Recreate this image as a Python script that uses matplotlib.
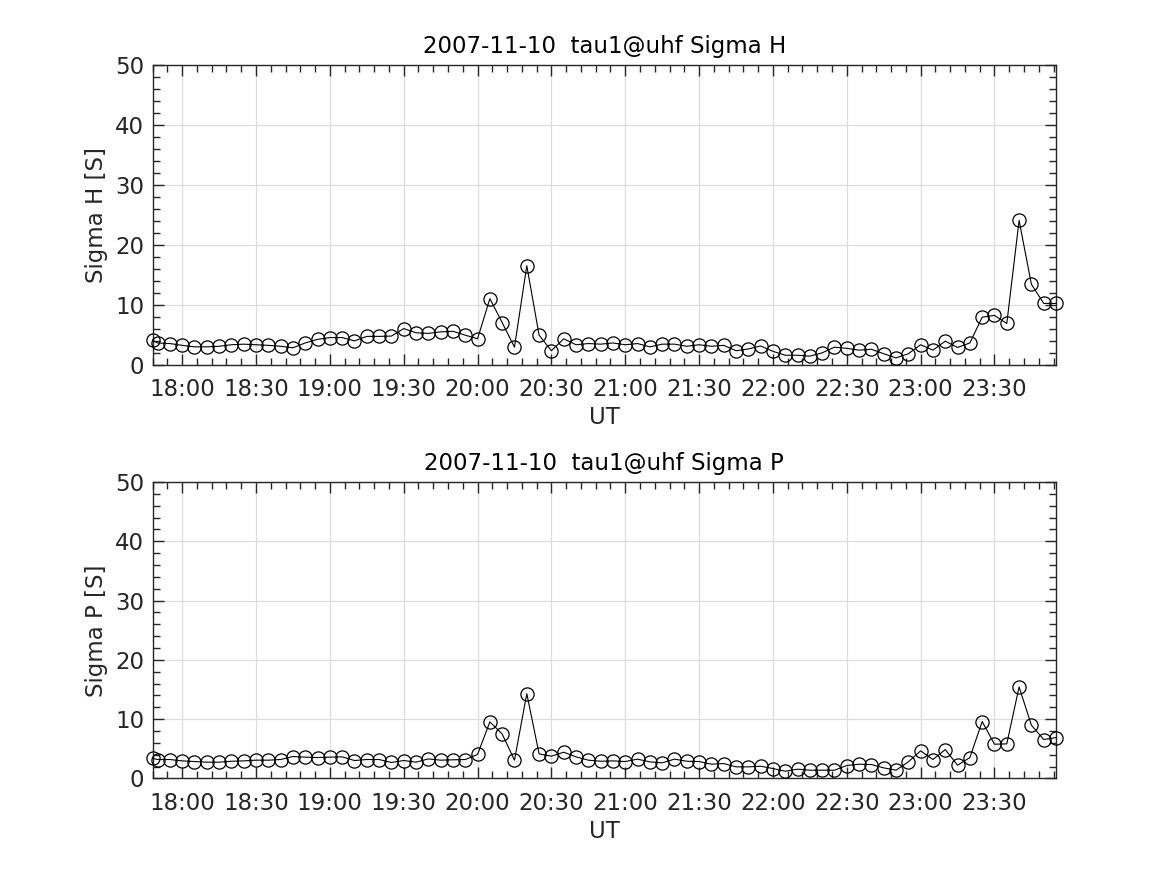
import numpy as np
import pandas as pd
import matplotlib
matplotlib.use("Agg")
import matplotlib.pyplot as plt
import matplotlib.dates as mdates
from matplotlib.ticker import MultipleLocator

plt.rcParams["font.family"] = ["DejaVu Sans"]

# 时间 (UT), 第一个点是 17:48, 后面每 5 分钟一个
times = ["17:48"] + [f"{m // 60:02d}:{m % 60:02d}" for m in range(17 * 60 + 50, 23 * 60 + 56, 5)]

sigma_h = [4.05, 3.6, 3.5, 3.2, 2.95, 2.95, 3.05, 3.3, 3.4, 3.3, 3.2, 3.05, 2.8, 3.6, 4.2,
           4.5, 4.5, 3.95, 4.7, 4.7, 4.75, 6.0, 5.3, 5.2, 5.45, 5.55, 4.9, 4.3,
           11.0, 7.0, 2.9, 16.5, 4.9, 2.3, 4.3, 3.3, 3.5, 3.4, 3.6, 3.3, 3.5, 2.95,
           3.4, 3.4, 3.05, 3.3, 3.05, 3.2, 2.3, 2.6, 3.1, 2.2, 1.55, 1.55, 1.4, 1.95,
           2.9, 2.7, 2.4, 2.55, 1.8, 1.1, 1.8, 3.3, 2.4, 3.9, 2.85, 3.6, 7.9, 8.2,
           6.85, 24.05, 13.4, 10.2, 10.2]

sigma_p = [3.4, 3.2, 3.2, 2.97, 2.86, 2.75, 2.75, 2.91, 2.97, 3.09, 3.09, 3.2, 3.7, 3.6, 3.53,
           3.6, 3.65, 3.03, 3.2, 3.2, 2.7, 3.03, 2.75, 3.3, 3.09, 3.15, 3.2, 4.05,
           9.55, 7.5, 3.09, 14.3, 4.15, 3.76, 4.43, 3.65, 3.09, 2.91, 2.97, 2.86, 3.26, 2.8,
           2.64, 3.26, 2.91, 2.86, 2.41, 2.52, 1.96, 1.96, 2.07, 1.68, 1.23, 1.57, 1.4, 1.4,
           1.4, 2.19, 2.41, 2.35, 1.79, 1.4, 2.8, 4.66, 3.2, 4.88, 2.24, 3.53, 9.6, 5.78,
           5.84, 15.45, 8.99, 6.57, 6.9]

date_str = "2007-11-10"
t = pd.to_datetime([date_str + " " + s for s in times])

txt = "#262626"
fs = 16.5


def style_ax(ax, ylab, title):
    ax.set_xlim(t[0], t[-1])
    ax.set_ylim(0, 50)
    ax.xaxis.set_major_locator(mdates.MinuteLocator(byminute=[0, 30]))
    ax.xaxis.set_minor_locator(mdates.MinuteLocator(byminute=range(0, 60, 6)))
    ax.xaxis.set_major_formatter(mdates.DateFormatter("%H:%M"))
    ax.yaxis.set_major_locator(MultipleLocator(10))
    ax.yaxis.set_minor_locator(MultipleLocator(2))
    ax.tick_params(which="both", direction="in", top=True, right=True,
                   color=txt, labelcolor=txt, labelsize=fs, width=1)
    ax.tick_params(which="major", length=8)
    ax.tick_params(axis="x", which="major", pad=9.5)
    ax.tick_params(axis="y", which="major", pad=6)
    ax.tick_params(which="minor", length=5)
    ax.grid(True, which="major", color="#dcdcdc", linewidth=0.9)
    ax.set_axisbelow(True)
    for sp in ax.spines.values():
        sp.set_color(txt)
        sp.set_linewidth(1)
    ax.set_xlabel("UT", fontsize=fs, color=txt, labelpad=4)
    ax.set_ylabel(ylab, fontsize=fs, color=txt, labelpad=5)
    ax.set_title(title, fontsize=fs, color="black", pad=9)


fig = plt.figure(figsize=(11.67, 8.75), dpi=100)
ax1 = fig.add_axes([0.1308, 0.5834, 0.7741, 0.3423])
ax2 = fig.add_axes([0.1308, 0.1103, 0.7741, 0.3388])

for ax, y, lab, name in [(ax1, sigma_h, "Sigma H [S]", "Sigma H"),
                         (ax2, sigma_p, "Sigma P [S]", "Sigma P")]:
    ax.plot(t, y, color="black", linewidth=0.8, marker="o", markersize=9.5,
            markerfacecolor="none", markeredgecolor="black", markeredgewidth=0.9,
            clip_on=False, zorder=3)
    style_ax(ax, lab, date_str + "  tau1@uhf " + name)

plt.savefig("out.png", dpi=100)
